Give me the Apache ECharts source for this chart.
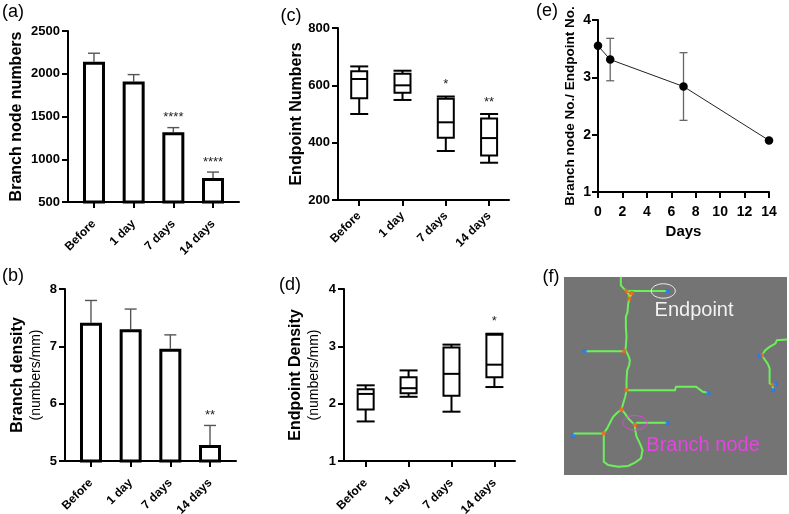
<!DOCTYPE html>
<html>
<head>
<meta charset="utf-8">
<script src="https://cdn.jsdelivr.net/npm/echarts@6/dist/echarts.min.js"></script>
<style>html,body{margin:0;padding:0;background:#fff}#c{width:789px;height:514px}</style>
</head>
<body>
<div id="c"></div>
<script>
// ---------------- data ----------------
const categories = ['Before', '1 day', '7 days', '14 days'];
const categoryIndex = [0, 1, 2, 3];

const branchNodeMean = [2140, 1910, 1315, 780];
const branchNodeErrTop = [2240, 1990, 1370, 850];
const branchNodeStars = ['', '', '****', '****'];

const branchDensityMean = [7.41, 7.30, 6.96, 5.28];
const branchDensityErrTop = [7.80, 7.65, 7.20, 5.62];
const branchDensityStars = ['', '', '', '**'];

// [min, Q1, median, Q3, max]
const endpointNumbersBox = [
  [500, 555, 622, 649, 666],
  [549, 574, 600, 640, 651],
  [371, 417, 471, 553, 561],
  [330, 355, 416, 484, 500]
];
const endpointNumbersStars = ['', '', '*', '**'];

const endpointDensityBox = [
  [1.69, 1.90, 2.17, 2.25, 2.32],
  [2.12, 2.18, 2.27, 2.46, 2.58],
  [1.86, 2.14, 2.52, 2.98, 3.03],
  [2.29, 2.46, 2.68, 3.20, 3.22]
];
const endpointDensityStars = ['', '', '', '*'];

const ratioDays = [0, 1, 7, 14];
const ratioMean = [3.55, 3.31, 2.84, 1.90];
const ratioLow = [null, 2.94, 2.25, null];
const ratioHigh = [null, 3.68, 3.43, null];

// panel (f) skeleton (image sample coordinates)
const skeletonPaths = [
  [[273,80],[273,105],[282,115],[290,122],[298,135],[298,148],[295,160],[293,185],[288,200],[288,230],[290,260],[287,300],[295,315],[300,330],[298,345],[292,360],[290,390],[290,420],[286,440],[280,460],[275,478]],
  [[290,122],[412,122]],
  [[300,122],[306,128],[298,145]],
  [[165,303],[283,303]],
  [[290,420],[435,420],[438,410],[498,410],[518,425],[535,428]],
  [[275,478],[262,488],[250,500],[242,515],[232,535],[222,550],[222,600],[222,635],[235,645],[265,650],[295,648],[315,638],[333,625],[338,600],[330,580],[320,560],[316,540],[315,525]],
  [[275,478],[285,490],[295,505],[305,515],[315,525]],
  [[222,550],[135,550],[130,558]],
  [[315,522],[322,518],[412,518]],
  [[770,268],[740,270],[735,280],[718,290],[705,300],[695,315],[705,330],[713,342],[718,355],[718,400],[727,405],[728,418]],
  [[695,315],[688,318]],
  [[727,405],[736,402]]
];
const branchNodes = [[290,122],[306,128],[298,145],[283,303],[290,420],[275,478],[222,550],[315,525],[695,315],[727,403]];
const endpoints = [[413,122],[165,303],[535,428],[130,558],[413,518],[688,318],[736,402],[728,420]];
const annotations = [
  {text: 'Endpoint', at: [492, 180], color: '#f2f2f2', ring: [400, 122]},
  {text: 'Branch node', at: [519, 585], color: '#e545e0', ring: [315, 518]}
];

// ---------------- helpers ----------------
const FONT = 'Liberation Sans, Arial, Helvetica, sans-serif';
const axisLine = {show: true, onZero: false, lineStyle: {color: '#000', width: 2}};
const axisTick = {show: true, length: 6, lineStyle: {color: '#000', width: 2}};
const tickLabel = {color: '#000', fontWeight: 'bold', fontSize: 13, fontFamily: FONT, formatter: v => String(v)};

function catXAxis(gi, min, max, margin) {
  return {
    type: 'value', gridIndex: gi, min: min, max: max,
    axisLine: axisLine,
    axisTick: Object.assign({customValues: categoryIndex}, axisTick),
    axisLabel: Object.assign({}, tickLabel, {fontSize: 12, customValues: categoryIndex, rotate: 45, margin: margin,
      formatter: v => categories[Math.round(v)]}),
    splitLine: {show: false}
  };
}
function valYAxis(gi, min, max, interval, name, gap, nameStyle) {
  return {
    type: 'value', gridIndex: gi, min: min, max: max, interval: interval,
    axisLine: axisLine, axisTick: axisTick,
    axisLabel: Object.assign({}, tickLabel, {margin: 8}),
    splitLine: {show: false},
    name: name, nameLocation: 'middle', nameGap: gap, nameRotate: 90,
    nameTextStyle: nameStyle
  };
}

function errorBarSeries(gi, xs, lows, highs, capHalf, color, width, bothCaps) {
  return {
    type: 'custom', xAxisIndex: gi, yAxisIndex: gi, z: 1, clip: false, silent: true,
    data: xs.map((x, i) => [x, lows[i], highs[i]]).filter(d => d[1] != null),
    renderItem: function (params, api) {
      const p1 = api.coord([api.value(0), api.value(1)]);
      const p2 = api.coord([api.value(0), api.value(2)]);
      const st = {stroke: color, lineWidth: width};
      const ch = [
        {type: 'line', shape: {x1: p1[0], y1: p1[1], x2: p2[0], y2: p2[1]}, style: st},
        {type: 'line', shape: {x1: p2[0] - capHalf, y1: p2[1], x2: p2[0] + capHalf, y2: p2[1]}, style: st}
      ];
      if (bothCaps) ch.push({type: 'line', shape: {x1: p1[0] - capHalf, y1: p1[1], x2: p1[0] + capHalf, y2: p1[1]}, style: st});
      return {type: 'group', children: ch};
    }
  };
}

function starSeries(gi, tops, stars, offset) {
  return {
    type: 'custom', xAxisIndex: gi, yAxisIndex: gi, z: 5, clip: false, silent: true,
    data: tops.map((v, i) => [i, v]),
    renderItem: function (params, api) {
      const s = stars[params.dataIndex];
      if (!s) return null;
      const p = api.coord([api.value(0), api.value(1)]);
      return {type: 'text', x: p[0], y: p[1] - offset,
        style: {text: s, fill: '#222', font: '13px ' + FONT, textAlign: 'center', textVerticalAlign: 'middle'}};
    }
  };
}

function boxSeries(gi, boxes, boxW, capW) {
  return {
    type: 'custom', xAxisIndex: gi, yAxisIndex: gi, z: 3, clip: false, silent: true,
    data: boxes.map((b, i) => [i].concat(b)),
    renderItem: function (params, api) {
      const x = api.value(0);
      const c = k => api.coord([x, api.value(k)]);
      const pMin = c(1), pQ1 = c(2), pMed = c(3), pQ3 = c(4), pMax = c(5);
      const cx = pMin[0];
      const st = {stroke: '#000', lineWidth: 2, fill: null};
      return {type: 'group', children: [
        {type: 'line', shape: {x1: cx, y1: pMin[1], x2: cx, y2: pQ1[1]}, style: st},
        {type: 'line', shape: {x1: cx, y1: pQ3[1], x2: cx, y2: pMax[1]}, style: st},
        {type: 'line', shape: {x1: cx - capW / 2, y1: pMin[1], x2: cx + capW / 2, y2: pMin[1]}, style: st},
        {type: 'line', shape: {x1: cx - capW / 2, y1: pMax[1], x2: cx + capW / 2, y2: pMax[1]}, style: st},
        {type: 'rect', shape: {x: cx - boxW / 2, y: pQ3[1], width: boxW, height: pQ1[1] - pQ3[1]}, style: {stroke: '#000', lineWidth: 2, fill: '#fff'}},
        {type: 'line', shape: {x1: cx - boxW / 2, y1: pMed[1], x2: cx + boxW / 2, y2: pMed[1]}, style: st}
      ]};
    }
  };
}

function barSeries(gi, values) {
  return {
    type: 'bar', xAxisIndex: gi, yAxisIndex: gi, z: 2, silent: true,
    data: values.map((v, i) => [i, v]), barWidth: 22,
    itemStyle: {color: '#fff', borderColor: '#000', borderWidth: 3}
  };
}

const nameBold16 = {fontSize: 16, fontWeight: 'bold', color: '#000', fontFamily: FONT};
const twoLineName = {
  color: '#000', fontFamily: FONT,
  rich: {
    b: {fontSize: 16, fontWeight: 'bold', color: '#000', fontFamily: FONT, lineHeight: 19},
    n: {fontSize: 14, color: '#000', fontFamily: FONT, lineHeight: 18}
  }
};

const grids = [
  {left: 68, top: 31, width: 171, height: 171},   // a
  {left: 65, top: 289, width: 171, height: 172},  // b
  {left: 338, top: 28, width: 171, height: 172},  // c
  {left: 344, top: 289, width: 171, height: 172}, // d
  {left: 598, top: 20, width: 171, height: 172},  // e
  {left: 564, top: 277, width: 223, height: 198, show: true, backgroundColor: '#747474', borderWidth: 0} // f
].map(g => Object.assign({outerBoundsMode: 'none', containLabel: false}, g));

const option = {
  animation: false,
  backgroundColor: '#fff',
  textStyle: {fontFamily: FONT},
  grid: grids,
  xAxis: [
    catXAxis(0, -0.655, 3.655, 20),
    catXAxis(1, -0.655, 3.655, 20),
    catXAxis(2, -0.49, 3.46, 14),
    catXAxis(3, -0.505, 3.48, 20),
    {
      type: 'value', gridIndex: 4, min: 0, max: 14, interval: 2,
      axisLine: axisLine, axisTick: axisTick,
      axisLabel: Object.assign({}, tickLabel, {fontSize: 14, margin: 13}),
      splitLine: {show: false},
      name: 'Days', nameLocation: 'middle', nameGap: 32,
      nameTextStyle: {fontSize: 15, fontWeight: 'bold', color: '#000', fontFamily: FONT}
    },
    {type: 'value', gridIndex: 5, min: 103, max: 770, show: false}
  ],
  yAxis: [
    valYAxis(0, 500, 2500, 500, 'Branch node numbers', 43, nameBold16),
    valYAxis(1, 5, 8, 1, '{b|Branch density}\n{n|(numbers/mm)}', 20, twoLineName),
    valYAxis(2, 200, 800, 200, 'Endpoint Numbers', 30, nameBold16),
    valYAxis(3, 1, 4, 1, '{b|Endpoint Density}\n{n|(numbers/mm)}', 21, twoLineName),
    Object.assign(valYAxis(4, 1, 4, 1, 'Branch node No./ Endpoint No.', 21,
      {fontSize: 13.5, fontWeight: 'bold', color: '#000', fontFamily: FONT}),
      {axisLabel: Object.assign({}, tickLabel, {fontSize: 14, margin: 7})}),
    {type: 'value', gridIndex: 5, min: 80, max: 675, inverse: true, show: false}
  ],
  series: [
    // (a)
    errorBarSeries(0, categoryIndex, branchNodeMean, branchNodeErrTop, 6, '#555', 1.4, false),
    barSeries(0, branchNodeMean),
    starSeries(0, branchNodeErrTop, branchNodeStars, 10),
    // (b)
    errorBarSeries(1, categoryIndex, branchDensityMean, branchDensityErrTop, 6, '#555', 1.4, false),
    barSeries(1, branchDensityMean),
    starSeries(1, branchDensityErrTop, branchDensityStars, 10),
    // (c)
    boxSeries(2, endpointNumbersBox, 16, 18),
    starSeries(2, endpointNumbersBox.map(b => b[4]), endpointNumbersStars, 12),
    // (d)
    boxSeries(3, endpointDensityBox, 16, 18),
    starSeries(3, endpointDensityBox.map(b => b[4]), endpointDensityStars, 12),
    // (e)
    errorBarSeries(4, ratioDays, ratioLow, ratioHigh, 4, '#666', 1.3, true),
    {
      type: 'line', xAxisIndex: 4, yAxisIndex: 4, z: 4, clip: false, silent: true,
      data: ratioDays.map((d, i) => [d, ratioMean[i]]),
      symbol: 'circle', symbolSize: 8.5, showSymbol: true,
      itemStyle: {color: '#000'}, lineStyle: {color: '#222', width: 1}
    },
    // (f)
    {
      type: 'lines', coordinateSystem: 'cartesian2d', xAxisIndex: 5, yAxisIndex: 5,
      polyline: true, silent: true, z: 2,
      data: skeletonPaths.map(p => ({coords: p})),
      lineStyle: {color: '#6cf05a', width: 2, opacity: 1}
    },
    {
      type: 'scatter', xAxisIndex: 5, yAxisIndex: 5, z: 3, silent: true,
      data: branchNodes, symbol: 'rect', symbolSize: 4, itemStyle: {color: '#ff5a10'}
    },
    {
      type: 'scatter', xAxisIndex: 5, yAxisIndex: 5, z: 3, silent: true,
      data: endpoints, symbol: 'rect', symbolSize: 4, itemStyle: {color: '#1a7cff'}
    },
    {
      type: 'custom', xAxisIndex: 5, yAxisIndex: 5, z: 4, silent: true, clip: false,
      data: annotations.map((a, i) => [a.ring[0], a.ring[1], a.at[0], a.at[1], i]),
      renderItem: function (params, api) {
        const a = annotations[params.dataIndex];
        const r = api.coord([api.value(0), api.value(1)]);
        const t = api.coord([api.value(2), api.value(3)]);
        const pts = [];
        for (let k = 0; k < 48; k++) {
          const th = k / 48 * Math.PI * 2;
          pts.push([r[0] + 12 * Math.cos(th), r[1] + 7.2 * Math.sin(th)]);
        }
        return {type: 'group', children: [
          {type: 'polygon', shape: {points: pts}, style: {stroke: a.color, lineWidth: 1, fill: null}},
          {type: 'text', x: t[0], y: t[1], style: {text: a.text, fill: a.color, font: '20px ' + FONT, textAlign: 'center', textVerticalAlign: 'middle'}}
        ]};
      }
    }
  ],
  graphic: [
    ['(a)', 13, 12], ['(b)', 13, 276], ['(c)', 291, 16],
    ['(d)', 290, 285], ['(e)', 547, 11], ['(f)', 551, 277]
  ].map(p => ({type: 'text', x: p[1], y: p[2], silent: true,
    style: {text: p[0], font: '18px ' + FONT, fill: '#000', textAlign: 'center', textVerticalAlign: 'middle'}}))
};

const chart = echarts.init(document.getElementById('c'), null, {renderer: 'canvas'});
chart.setOption(option);
</script>
</body>
</html>
